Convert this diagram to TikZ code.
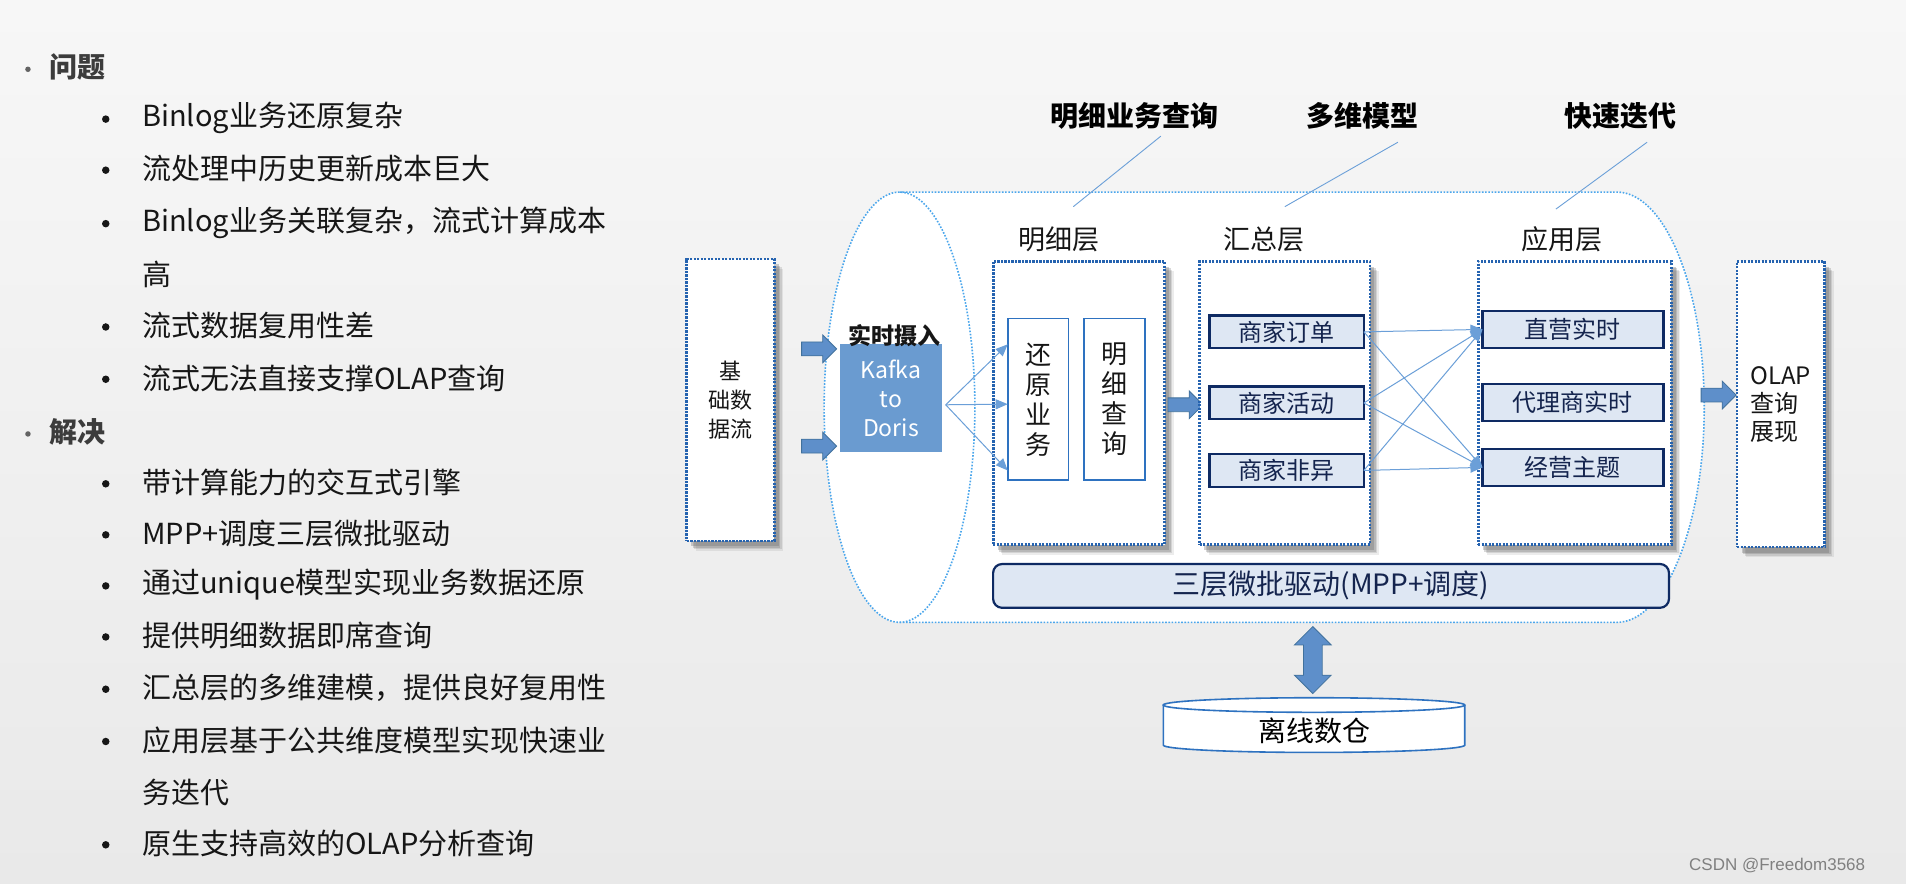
\documentclass[tikz,border=0pt]{standalone}
\usepackage{fontspec}
\setmainfont{Noto Sans CJK SC}
\newfontfamily\wmfont{Liberation Sans}
\usetikzlibrary{shadows,arrows.meta,shapes.arrows,calc}
\newcommand\myfs[2]{\fontsize{#1}{#2}\selectfont}
\definecolor{bgtop}{HTML}{F7F7F7}
\definecolor{bgbot}{HTML}{E9E9E9}
\definecolor{dotblue}{HTML}{2563B0}
\definecolor{cylblue}{HTML}{4AA6EC}
\definecolor{inblue}{HTML}{2E72C0}
\definecolor{navy}{HTML}{0E2A63}
\definecolor{navytext}{HTML}{14244E}
\definecolor{lightfill}{HTML}{DEE7F3}
\definecolor{arrfill}{HTML}{5E8FCA}
\definecolor{arrdraw}{HTML}{41719C}
\definecolor{kafkafill}{HTML}{6A9BD0}
\definecolor{thinblue}{HTML}{6B9FD8}
\definecolor{txt}{HTML}{161616}
\definecolor{headgray}{HTML}{3C3C3C}
\tikzset{
  every node/.style={inner sep=0pt, outer sep=0pt},
  b1/.style={circle, fill=headgray!80, minimum size=5.5pt},
  hd/.style={anchor=west, text=headgray, font=\bfseries\myfs{28pt}{28pt}},
  b2/.style={circle, fill=txt, minimum size=7.5pt},
  it/.style={anchor=west, text=txt, font=\myfs{29pt}{29pt}},
  dbox/.style={draw=dotblue, line width=2.8pt, dash pattern=on 2.2pt off 1.3pt, fill=white,
    drop shadow={shadow xshift=9pt, shadow yshift=-10pt, fill=black!60, opacity=.12},
    drop shadow={shadow xshift=7.5pt, shadow yshift=-8.5pt, fill=black!60, opacity=.18},
    drop shadow={shadow xshift=6pt, shadow yshift=-7pt, fill=black!60, opacity=.25},
    drop shadow={shadow xshift=4.5pt, shadow yshift=-5.5pt, fill=black!60, opacity=.3}},
  cyl/.style={draw=cylblue, line width=1.6pt, dash pattern=on 1.6pt off 1.6pt},
  inbox/.style={draw=inblue, line width=1.8pt, fill=white, text=txt, align=center, font=\myfs{26pt}{30pt}},
  sdbox/.style={draw=navy, line width=2.2pt, fill=lightfill, text=navytext, font=\myfs{24pt}{24pt}},
  barrow/.style={single arrow, fill=arrfill, draw=arrdraw, line width=.8pt, inner sep=6.5pt,
    minimum height=35pt, minimum width=27pt, single arrow head extend=7pt},
  thin/.style={draw=thinblue, line width=1pt, -{Triangle[length=12pt,width=10pt]}},
  annot/.style={draw=thinblue, line width=.9pt},
  ttl/.style={text=black, font=\bfseries\myfs{28pt}{28pt}},
  lay/.style={text=txt, font=\myfs{27pt}{27pt}},
}
\begin{document}
\begin{tikzpicture}[x=1.2156pt, y=-1.2156pt]
\useasboundingbox (0,0) rectangle (1568,727);
\shade[top color=bgtop, bottom color=bgbot] (0,0) rectangle (1568,727);

% ---------- left text ----------
\node[b1] (bq) at (23,57) {};
\node[hd] (tq) at (41,55) {问题};
\node[b2] (p1) at (87,98) {};  \node[it] (i1) at (117,97) {Binlog业务还原复杂};
\node[b2] (p2) at (87,140) {}; \node[it] (i2) at (117,139) {流处理中历史更新成本巨大};
\node[b2] (p3) at (87,184) {}; \node[it] (i3) at (117,183) {Binlog业务关联复杂，流式计算成本};
\node[it] (i3b) at (117,226) {高};
\node[b2] (p4) at (87,269) {}; \node[it] (i4) at (117,268) {流式数据复用性差};
\node[b2] (p5) at (87,312) {}; \node[it] (i5) at (117,311) {流式无法直接支撑OLAP查询};
\node[b1] (bj) at (23,357) {};
\node[hd] (tj) at (41,355) {解决};
\node[b2] (q1) at (87,398) {}; \node[it] (j1) at (117,397) {带计算能力的交互式引擎};
\node[b2] (q2) at (87,440) {}; \node[it] (j2) at (117,439) {MPP+调度三层微批驱动};
\node[b2] (q3) at (87,482) {}; \node[it] (j3) at (117,481) {通过unique模型实现业务数据还原};
\node[b2] (q4) at (87,524) {}; \node[it] (j4) at (117,523) {提供明细数据即席查询};
\node[b2] (q5) at (87,567) {}; \node[it] (j5) at (117,566) {汇总层的多维建模，提供良好复用性};
\node[b2] (q6) at (87,610) {}; \node[it] (j6) at (117,609) {应用层基于公共维度模型实现快速业};
\node[it] (j6b) at (117,652) {务迭代};
\node[b2] (q7) at (87,695) {}; \node[it] (j7) at (117,694) {原生支持高效的OLAP分析查询};

% ---------- big cylinder ----------
\path[fill=white] (740,158) -- (1330,158) arc[start angle=-90, end angle=90, x radius=72, y radius=177]
  -- (740,512) arc[start angle=90, end angle=270, x radius=62, y radius=177] -- cycle;
\draw[cyl] (740,158) -- (1330,158) arc[start angle=-90, end angle=90, x radius=72, y radius=177] -- (740,512);
\draw[cyl] (740,335) ellipse[x radius=62, y radius=177];

% ---------- titles ----------
\node[ttl] (tmx) at (933,95) {明细业务查询};
\node[ttl] (tdw) at (1121,95) {多维模型};
\node[ttl] (tks) at (1333,95) {快速迭代};
\coordinate (a1s) at (955,112); \coordinate (a1e) at (883,170);
\coordinate (a2s) at (1150,117); \coordinate (a2e) at (1057,170);
\coordinate (a3s) at (1355,117); \coordinate (a3e) at (1280,172);
\draw[annot] (a1s) -- (a1e);
\draw[annot] (a2s) -- (a2e);
\draw[annot] (a3s) -- (a3e);

% ---------- base stream ----------
\node[dbox, minimum width=87.5pt, minimum height=282pt, align=center, text=txt, font=\myfs{22pt}{29pt}] (base) at (601,329) {基\\础数\\据流};
\node[barrow] (ar1) at (671,287) {};
\node[barrow] (ar2) at (671,367) {};

% ---------- kafka ----------
\node[fill=kafkafill, minimum width=102pt, minimum height=108pt, text=white, align=center, font=\myfs{23pt}{29pt}] (kafka) at (733,327.5) {Kafka\\to\\Doris};
\node[text=txt, font=\bfseries\myfs{23pt}{23pt}] (rt) at (736,276) {实时摄入};

% ---------- detail layer ----------
\node[dbox, minimum width=171.4pt, minimum height=283.2pt] (mxl) at (887.5,331.5) {};
\node[lay] (mxlt) at (871,197) {明细层};
\node[inbox, minimum width=60.8pt, minimum height=161.7pt] (hy) at (854,328.5) {还\\原\\业\\务};
\node[inbox, minimum width=60.8pt, minimum height=161.7pt] (mc) at (917,328.5) {明\\细\\查\\询};
\coordinate (fan) at (778,333);
\draw[thin] (fan) -- ($(hy.north west)!0.16!(hy.south west)$);
\draw[thin] (fan) -- ($(hy.north west)!0.53!(hy.south west)$);
\draw[thin] (fan) -- ($(hy.north west)!0.94!(hy.south west)$);
\node[barrow] (ar3) at (972.5,333) {};

% ---------- summary layer ----------
\node[dbox, minimum width=170.2pt, minimum height=283.2pt] (hzl) at (1057,331.5) {};
\node[lay] (hzlt) at (1040,197) {汇总层};
\node[sdbox, minimum width=154.4pt, minimum height=32.8pt] (s1) at (1058.5,273) {商家订单};
\node[sdbox, minimum width=154.4pt, minimum height=32.8pt] (s2) at (1058.5,331.5) {商家活动};
\node[sdbox, minimum width=154.4pt, minimum height=32.8pt] (s3) at (1058.5,387) {商家非异};

% ---------- application layer ----------
\node[dbox, minimum width=193.3pt, minimum height=283.2pt] (yyl) at (1295.5,331.5) {};
\node[lay] (yylt) at (1285,197) {应用层};
\node[sdbox, minimum width=181pt, minimum height=36.5pt] (y1) at (1294,271) {直营实时};
\node[sdbox, minimum width=181pt, minimum height=36.5pt] (y2) at (1294,331) {代理商实时};
\node[sdbox, minimum width=181pt, minimum height=36.5pt] (y3) at (1294,384.5) {经营主题};

\draw[thin] (s1.east) -- (y1.west);
\draw[thin] (s1.east) -- (y3.west);
\draw[thin] (s2.east) -- (y1.west);
\draw[thin] (s2.east) -- (y3.west);
\draw[thin] (s3.east) -- (y1.west);
\draw[thin] (s3.east) -- (y3.west);

% ---------- micro batch ----------
\node[draw=navy, line width=2.2pt, fill=lightfill, rounded corners=9pt, minimum width=675.9pt, minimum height=43.8pt,
  text=navytext, font=\myfs{28pt}{28pt}] (mb) at (1095,482) {三层微批驱动(MPP+调度)};

% ---------- OLAP ----------
\node[barrow] (ar4) at (1411,325) {};
\node[dbox, minimum width=87.5pt, minimum height=285.7pt, align=left, text=txt, font=\myfs{24pt}{28pt}] (olap) at (1465,332.5) {OLAP\\查询\\展现};

% ---------- offline warehouse ----------
\node[double arrow, fill=arrfill, draw=arrdraw, line width=.8pt, inner sep=9pt, minimum height=67pt,
  minimum width=36pt, double arrow head extend=9pt, rotate=90] (dar) at (1080,543) {};
\path[fill=white, draw=inblue, line width=1.6pt] (957,580) -- (957,613) arc[start angle=180, end angle=0, x radius=124, y radius=6] -- (1205,580);
\draw[draw=inblue, line width=1.6pt, fill=white] (1081,580) ellipse[x radius=124, y radius=6];
\node[text=black, font=\myfs{28pt}{28pt}] (dk) at (1081,601) {离线数仓};

% ---------- watermark ----------
\node[text=black!50, font=\wmfont\myfs{17pt}{17pt}] (wm) at (1462,712) {CSDN @Freedom3568};
\end{tikzpicture}
\end{document}
